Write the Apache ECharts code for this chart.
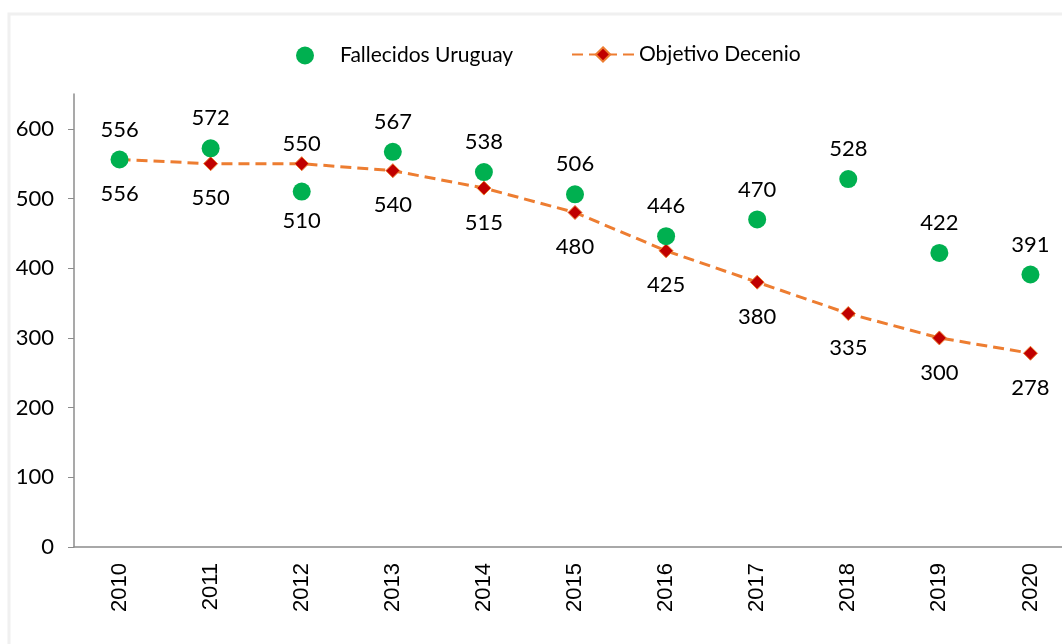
<!DOCTYPE html>
<html>
<head>
<meta charset="utf-8">
<script src="https://cdn.jsdelivr.net/npm/echarts@6/dist/echarts.min.js"></script>
<style>
  html, body { margin: 0; padding: 0; background: #fff; }
  #chart { width: 1062px; height: 644px; }
</style>
</head>
<body>
<div id="chart"></div>
<script>
var years = ['2010', '2011', '2012', '2013', '2014', '2015', '2016', '2017', '2018', '2019', '2020'];
var fallecidos = [556, 572, 510, 567, 538, 506, 446, 470, 528, 422, 391];
var objetivo = [556, 550, 550, 540, 515, 480, 425, 380, 335, 300, 278];

var font = 'Lato, "Open Sans", sans-serif';

// label position per point: Excel put them above or below
var fallData = fallecidos.map(function (v, i) {
  if (i === 2) return { value: v, label: { position: 'bottom', distance: 9 } };
  return v;
});
var objData = objetivo.map(function (v, i) {
  if (i === 2) return { value: v, label: { position: 'top', distance: 1 } };
  return v;
});

var chart = echarts.init(document.getElementById('chart'));
chart.setOption({
  animation: false,
  backgroundColor: '#fff',
  graphic: [{
    type: 'rect',
    shape: { x: 9, y: 14, width: 1100, height: 700 },
    style: { fill: 'none', stroke: '#f0f0f0', lineWidth: 3 },
    silent: true
  }],
  legend: [{
    left: 291, top: 40,
    data: ['Fallecidos Uruguay'],
    itemWidth: 18, itemHeight: 18,
    textStyle: { fontFamily: font, fontSize: 21, color: '#000', padding: [0, 0, 0, 21] }
  }, {
    left: 566, top: 39,
    data: ['Objetivo Decenio'],
    itemWidth: 62, itemHeight: 18,
    textStyle: { fontFamily: font, fontSize: 21, color: '#000' }
  }],
  grid: { left: 74, right: -14, top: 94, bottom: 97, outerBoundsMode: 'none' },
  xAxis: {
    type: 'category',
    data: years,
    axisLine: { lineStyle: { color: '#8c8c8c', width: 1.5 } },
    axisTick: { show: false },
    axisLabel: { rotate: 90, fontFamily: '"Liberation Sans", Arial, sans-serif', fontSize: 22, color: '#000', margin: 16 }
  },
  yAxis: {
    type: 'value',
    min: 0, max: 650, interval: 100,
    splitLine: { show: false },
    axisLine: { show: true, lineStyle: { color: '#8c8c8c', width: 1.5 } },
    axisTick: { show: true, length: 6, lineStyle: { color: '#8c8c8c' } },
    axisLabel: { showMaxLabel: false, fontFamily: font, fontSize: 22, color: '#000', margin: 20 }
  },
  series: [{
    name: 'Objetivo Decenio',
    type: 'line',
    data: objData,
    z: 2,
    symbol: 'diamond',
    symbolSize: 14,
    lineStyle: { color: '#ed7d31', width: 3, type: [11, 6] },
    itemStyle: { color: '#c00000', borderColor: '#ed7d31', borderWidth: 1 },
    label: { show: true, position: 'bottom', distance: 16, fontFamily: font, fontSize: 22, color: '#000' }
  }, {
    name: 'Fallecidos Uruguay',
    type: 'scatter',
    data: fallData,
    z: 3,
    symbol: 'circle',
    symbolSize: 18,
    itemStyle: { color: '#00b050', opacity: 1 },
    label: { show: true, position: 'top', distance: 10, fontFamily: font, fontSize: 22, color: '#000' }
  }]
});
</script>
</body>
</html>
